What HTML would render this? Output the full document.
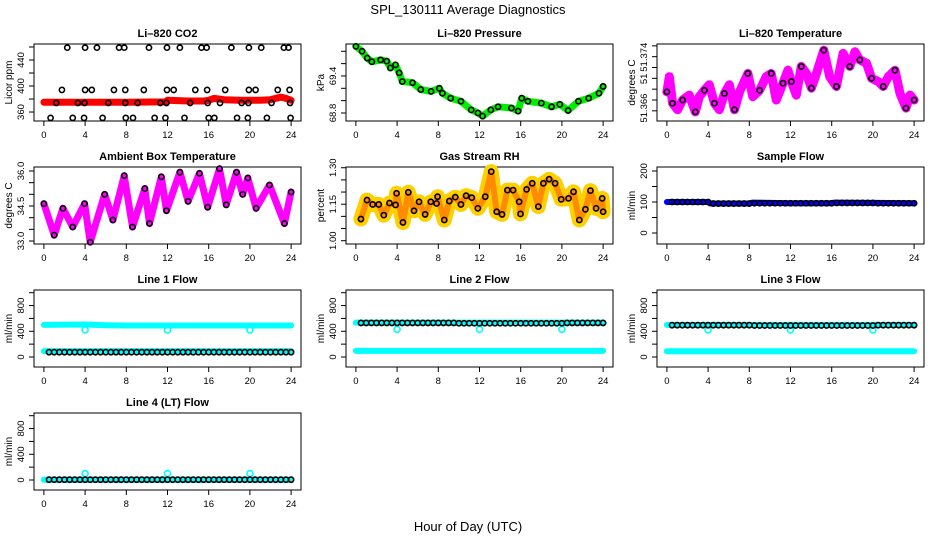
<!DOCTYPE html>
<html><head><meta charset="utf-8"><style>
html,body{margin:0;padding:0;background:#fff}
svg{display:block;font-family:"Liberation Sans",Arial,sans-serif}
</style></head><body>
<svg id="chart" width="936" height="540" viewBox="0 0 936 540" xmlns="http://www.w3.org/2000/svg">
<text x="468" y="14" text-anchor="middle" font-size="13">SPL_130111  Average Diagnostics</text>
<text x="468" y="531" text-anchor="middle" font-size="13">Hour of Day (UTC)</text>
</svg>
<script>
// ---- data ----
const xTicks = [0,4,8,12,16,20,24];
const halfHours = [0.5,1,1.5,2,2.5,3,3.5,4,4.5,5,5.5,6,6.5,7,7.5,8,8.5,9,9.5,10,10.5,11,11.5,12,12.5,13,13.5,14,14.5,15,15.5,16,16.5,17,17.5,18,18.5,19,19.5,20,20.5,21,21.5,22,22.5,23,23.5,24];

const co2T = [0,4,8,11.8,12,14,15.5,16,16.5,17.5,19,20,21,22,23,23.5,24];
const co2V = [375,375,375,375.5,378,377,377,378,381,379,378,378,378,379,383,381,378];
const co2PtsT = [2.27,4,5.15,7.3,7.8,10.2,11.95,13.2,15.3,15.8,18.2,19.9,21.1,23.3,23.75,
 1.75,4,4.65,6.8,7.9,9.7,11.95,12.6,14.7,15.85,17.6,19.9,20.55,22.7,23.85,
 1.2,3.3,3.95,6.25,7.9,9.1,11.3,11.9,14.2,15.9,17.1,19.2,19.85,22.1,23.9,
 0.65,2.8,3.9,5.7,7.95,8.65,10.75,11.8,13.65,16,16.55,18.75,19.8,21.65,23.95];
const co2PtsV = [459,459,459,459,459,459,459,459,459,459,459,459,459,459,459,
 394,394,394,394,394,394,394,394,394,394,394,394,394,394,394,
 374,374,374,374,374,374,374,374,374,374,374,374,374,374,374,
 351,351,351,351,351,351,351,351,351,351,351,351,351,351,351];

const pressT = [0,0.6,1.1,1.55,2.4,3,3.35,3.85,4.2,4.5,5.5,6.3,7.3,8.1,8.4,9.2,10.2,11.2,11.85,12.3,13.1,13.8,15.1,15.75,16.1,16.7,18,19,19.8,20.6,21.6,22.6,23.6,24];
const pressV = [69.88,69.8,69.69,69.63,69.66,69.64,69.53,69.58,69.45,69.31,69.29,69.18,69.15,69.2,69.12,69.04,68.99,68.85,68.8,68.75,68.85,68.9,68.88,68.83,69.04,68.99,68.96,68.9,68.94,68.84,68.99,69.04,69.12,69.23];

const tempT = [0,0.23,0.55,1.04,1.53,2.18,2.76,3.15,3.64,4.12,4.61,5.1,5.58,6.07,6.56,7.05,7.86,8.34,9,9.64,10.13,10.62,11.27,11.75,12.08,12.56,13.05,13.54,14.03,14.51,15.23,15.81,16.46,17.11,17.76,18.25,18.73,19.38,19.87,20.52,21,21.49,22.14,22.63,23.21,23.6,24];
const tempV = [51.3675,51.3703,51.3654,51.3642,51.366,51.3669,51.3638,51.3666,51.3678,51.3688,51.3654,51.3642,51.3672,51.3688,51.3642,51.3675,51.3709,51.3666,51.3678,51.3703,51.3709,51.366,51.3691,51.3715,51.3694,51.3669,51.3722,51.3709,51.3682,51.3709,51.3752,51.3703,51.3685,51.3746,51.3722,51.3749,51.3734,51.3728,51.37,51.3694,51.3685,51.3703,51.3715,51.3672,51.3645,51.3669,51.366];

const ambT = [0,1.0,1.85,2.8,3.95,4.5,5.9,6.7,7.8,8.6,9.8,10.25,11.4,11.9,13.2,14,15.1,15.9,17.05,17.7,18.7,19.3,19.8,20.6,21.9,23.35,24];
const ambV = [34.6,33.25,34.4,33.6,34.6,32.95,35.0,33.9,35.8,33.6,35.25,33.75,35.75,34.3,35.95,34.7,35.9,34.45,36.1,34.55,35.95,35.0,35.7,34.4,35.4,33.75,35.1];

const rhT = [0.49,1.08,1.63,2.22,2.71,3.26,3.85,3.95,4.57,5.09,5.64,6.13,6.72,7.27,7.83,7.93,8.58,9.07,9.65,10.2,10.7,11.25,11.84,12.56,13.14,13.67,14.19,14.71,15.26,15.85,15.98,16.57,17.12,17.71,18.2,18.76,19.34,19.93,20.65,21.13,21.69,22.28,22.77,23.32,23.91,24];
const rhV = [1.089,1.167,1.149,1.149,1.105,1.155,1.147,1.195,1.075,1.199,1.123,1.16,1.108,1.16,1.153,1.181,1.085,1.163,1.179,1.149,1.185,1.177,1.133,1.181,1.284,1.119,1.108,1.208,1.208,1.16,1.11,1.211,1.236,1.14,1.236,1.253,1.236,1.17,1.174,1.201,1.085,1.129,1.206,1.133,1.174,1.119];

const sampleT = [0,4,4.2,8,8.3,12,16,16.2,20,24];
const sampleV = [100,100,95,95,98,96,96,98,97,96];

const line1HiT = [0,4,6,8,24]; const line1HiV = [500,505,495,490,490];
const line1LoT = [0,24]; const line1LoV = [92,92];
const line1Black = [75,75,75,75,75,75,75,75,75,75,75,75,75,75,75,75,75,75,75,75,75,75,75,75,75,75,75,75,75,75,75,75,75,75,75,75,75,75,75,75,75,75,75,75,75,75,75,75];
const line2HiT = [0,24]; const line2HiV = [535,535];
const line2LoT = [0,24]; const line2LoV = [95,95];
const line2Black = [530,530,530,530,530,530,530,530,530,530,530,530,530,530,530,530,530,530,530,525,525,525,525,525,525,525,525,525,525,525,525,525,525,525,525,525,525,525,525,525,530,530,530,530,530,530,530,530];
const line3HiT = [0,24]; const line3HiV = [500,500];
const line3LoT = [0,24]; const line3LoV = [90,90];
const line3Black = [495,495,495,495,495,495,495,495,495,495,495,495,495,495,495,495,490,490,490,490,490,490,490,490,490,490,490,490,490,490,490,490,490,490,490,490,490,490,490,490,495,495,495,495,495,495,495,495];
const line4HiT = [0,24]; const line4HiV = [5,5];
const line4LoT = [0,24]; const line4LoV = [5,5];
const line4Black = [5,5,5,5,5,5,5,5,5,5,5,5,5,5,5,5,5,5,5,5,5,5,5,5,5,5,5,5,5,5,5,5,5,5,5,5,5,5,5,5,5,5,5,5,5,5,5,5];
const dipT = [4,12,20];
const line1DipV = [420,420,420];
const line2DipV = [430,430,430];
const line3DipV = [420,420,420];
const line4DipV = [100,100,100];

// ---- drawing ----
const NS = "http://www.w3.org/2000/svg";
const svg = document.getElementById('chart');
const W = 267, H = 77;
function mk(tag, attrs, parent){
  const e = document.createElementNS(NS, tag);
  for (const k in attrs) e.setAttribute(k, attrs[k]);
  (parent||svg).appendChild(e);
  return e;
}
function panel(o){
  const g = mk('g', {});
  
  
  const sx = v => o.left + (v + 0.96) / 25.92 * W;
  const sy = v => o.top + (o.ymax - v) / (o.ymax - o.ymin) * H;
  const t = mk('text', {x: o.left + W/2, y: o.top - 7, 'text-anchor': 'middle', 'font-size': 11, 'font-weight': 'bold'}, g);
  t.textContent = o.title;
  
  
  const box = mk('rect', {x: o.left, y: o.top, width: W, height: H, fill: 'none', stroke: '#000', 'stroke-width': 1}, g);
  
  
  xTicks.forEach(v => {
    const x = sx(v);
    const tk = mk('line', {x1: x, x2: x, y1: o.top + H, y2: o.top + H + 5, stroke: '#000'}, g);
    
    
    const lb = mk('text', {x: x, y: o.top + H + 17, 'text-anchor': 'middle', 'font-size': 9.5}, g);
    lb.textContent = v;
    
    
  });
  o.yticks.forEach(v => {
    const y = sy(v);
    const tk = mk('line', {x1: o.left - 5, x2: o.left, y1: y, y2: y, stroke: '#000'}, g);
    
    
  });
  o.ylabels.forEach(p => {
    const y = sy(p[0]);
    const lb = mk('text', {x: 0, y: 0, 'text-anchor': 'middle', 'font-size': 9.5, transform: 'translate(' + (o.left - 10) + ',' + y + ') rotate(-90)'}, g);
    lb.textContent = p[1];
    
    
  });
  const yt = mk('text', {x: 0, y: 0, 'text-anchor': 'middle', 'font-size': 10, transform: 'translate(' + (o.left - 22) + ',' + (o.top + H/2) + ') rotate(-90)'}, g);
  yt.textContent = o.ylab;
  
  
  const clip = mk('g', {}, g);
  
  
  return {sx, sy, g: clip};
}
function band(p, T, V, color, w, name){
  const pts = T.map((t, i) => p.sx(t).toFixed(1) + ',' + p.sy(V[i]).toFixed(1)).join(' ');
  const pl = mk('polyline', {points: pts, fill: 'none', stroke: color, 'stroke-width': w, 'stroke-linejoin': 'round', 'stroke-linecap': 'round'}, p.g);
  
  
}
function circles(p, T, V, color, name, r){
  T.forEach((t, i) => {
    const c = mk('circle', {cx: p.sx(t), cy: p.sy(V[i]), r: r || 2.6, fill: 'none', stroke: color, 'stroke-width': 1.6}, p.g);
    
    
  });
}
const rows = [44, 167, 290, 413];
const cols = [34, 346, 657];

let p;
p = panel({name: 'co2', title: 'Li\u2013820 CO2', ylab: 'Licor ppm', left: cols[0], top: rows[0], ymin: 346.2, ymax: 464.6,
  yticks: [360,380,400,420,440,460], ylabels: [[360,'360'],[400,'400'],[440,'440']]});
band(p, co2T, co2V, '#ff0000', 7, 'co2-red-series');
circles(p, co2PtsT, co2PtsV, '#000', 'co2-point');

p = panel({name: 'pressure', title: 'Li\u2013820 Pressure', ylab: 'kPa', left: cols[1], top: rows[0], ymin: 68.67, ymax: 69.918,
  yticks: [68.8,69.0,69.2,69.4,69.6,69.8], ylabels: [[68.8,'68.8'],[69.4,'69.4']]});
band(p, pressT, pressV, '#00ee00', 7, 'pressure-green-series');
circles(p, pressT, pressV, '#000', 'pressure-point');

p = panel({name: 'temperature', title: 'Li\u2013820 Temperature', ylab: 'degrees C', left: cols[2], top: rows[0], ymin: 51.36212, ymax: 51.37634,
  yticks: [51.364,51.366,51.368,51.370,51.372,51.374,51.376], ylabels: [[51.3645,'51.366'],[51.3699,'51'],[51.3739,'51.374']]});
band(p, tempT, tempV, '#ff00ff', 9, 'temperature-magenta-series');
circles(p, tempT.filter((t,i)=>i%2===0), tempV.filter((t,i)=>i%2===0), '#000', 'temperature-point');

p = panel({name: 'ambient', title: 'Ambient Box Temperature', ylab: 'degrees C', left: cols[0], top: rows[1], ymin: 32.871, ymax: 36.172,
  yticks: [33,33.5,34,34.5,35,35.5,36], ylabels: [[33,'33.0'],[34.5,'34.5'],[36,'36.0']]});
band(p, ambT, ambV, '#ff00ff', 7, 'ambient-magenta-series');
circles(p, ambT, ambV, '#000', 'ambient-point');

p = panel({name: 'rh', title: 'Gas Stream RH', ylab: 'percent', left: cols[1], top: rows[1], ymin: 0.9864, ymax: 1.303,
  yticks: [1.0,1.05,1.1,1.15,1.2,1.25,1.3], ylabels: [[1.0,'1.00'],[1.15,'1.15'],[1.3,'1.30']]});
band(p, rhT, rhV, '#ffd000', 15, 'rh-yellow-series');
band(p, rhT, rhV, '#ff8c00', 6, 'rh-orange-series');
circles(p, rhT, rhV, '#000', 'rh-point');

p = panel({name: 'sample-flow', title: 'Sample Flow', ylab: 'ml/min', left: cols[2], top: rows[1], ymin: -35.5, ymax: 212.9,
  yticks: [0,50,100,150,200], ylabels: [[0,'0'],[100,'100'],[200,'200']]});
band(p, sampleT, sampleV, '#0000ff', 6, 'sample-flow-blue-series');
circles(p, halfHours, halfHours.map(t => sampleV[sampleT.findIndex(x => x >= t)]), '#000', 'sample-flow-point');

const flows = [
  ['line1', 'Line 1 Flow', cols[0], rows[2], line1HiT, line1HiV, line1LoT, line1LoV, line1Black, line1DipV],
  ['line2', 'Line 2 Flow', cols[1], rows[2], line2HiT, line2HiV, line2LoT, line2LoV, line2Black, line2DipV],
  ['line3', 'Line 3 Flow', cols[2], rows[2], line3HiT, line3HiV, line3LoT, line3LoV, line3Black, line3DipV],
  ['line4', 'Line 4 (LT) Flow', cols[0], rows[3], line4HiT, line4HiV, line4LoT, line4LoV, line4Black, line4DipV]
];
flows.forEach(f => {
  const q = panel({name: f[0], title: f[1], ylab: 'ml/min', left: f[2], top: f[3], ymin: -155.5, ymax: 1042,
    yticks: [0,200,400,600,800,1000], ylabels: [[0,'0'],[400,'400'],[800,'800']]});
  band(q, f[4], f[5], '#00ffff', 6, f[0] + '-cyan-high-series');
  band(q, f[6], f[7], '#00ffff', 6, f[0] + '-cyan-low-series');
  circles(q, dipT, f[9], '#00ffff', f[0] + '-cyan-dip', 3);
  circles(q, halfHours, f[8], '#000', f[0] + '-black-point');
});
</script>
</body></html>
